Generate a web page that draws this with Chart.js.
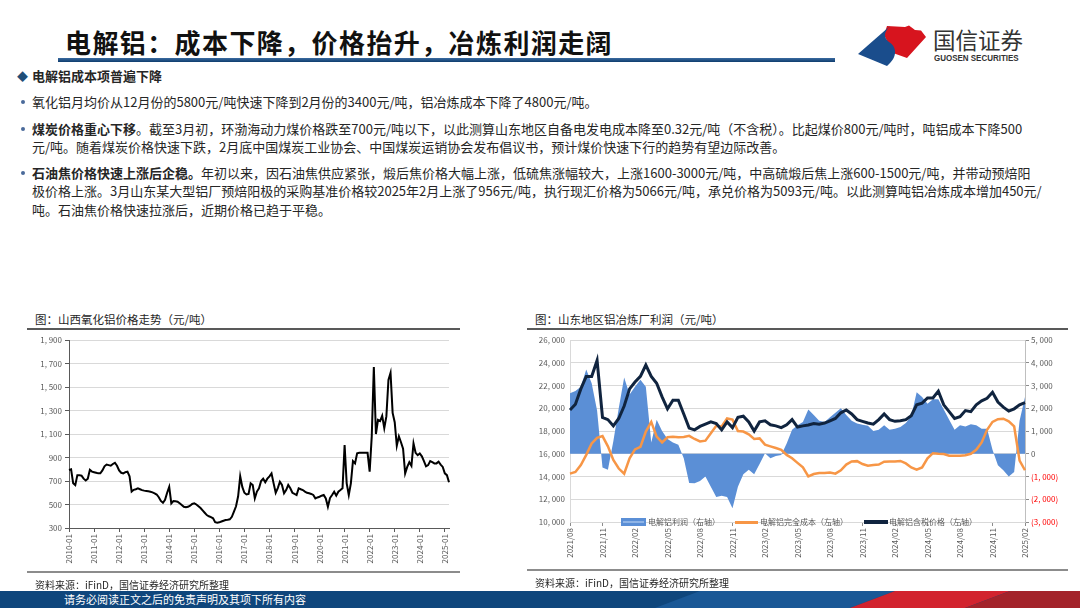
<!DOCTYPE html>
<html>
<head>
<meta charset="utf-8">
<script src="https://cdn.jsdelivr.net/npm/chart.js@4.4.0/dist/chart.umd.min.js"></script>
<style>
  body { margin: 0; background: #fff; }
  #page { position: relative; width: 1080px; height: 608px; overflow: hidden;
          font-family: 'Noto Sans CJK SC', sans-serif; color: #262626; }
  .abs { position: absolute; white-space: nowrap; }
  .txt { left: 32px; font-size: 13px; line-height: 18px; }
  .dot { left: 21px; width: 4px; height: 4px; border-radius: 2px; background: #4a6a9a; }
  .ctitle { font-size: 11.5px; color: #262626; }
  .src { font-size: 10px; color: #262626; }
  .lg { font-size: 8px; color: #595959; line-height: 10px; }
</style>
</head>
<body>
<div id="page">

  <!-- header -->
  <div class="abs" style="left:65px;top:24px;font-size:26px;letter-spacing:1.4px;font-weight:700;line-height:36px;color:#111;">电解铝：成本下降，价格抬升，冶炼利润走阔</div>
  <div class="abs" style="left:58px;top:58px;width:777px;height:4px;background:linear-gradient(#3a6aa0,#0e3c6e);"></div>
  <svg class="abs" style="left:0;top:0" width="1080" height="70">
    <path d="M887,26 L905,27 L909,25.5 L915,30 L921,30.5 L926,37 L907,58 L893,53 L884,35 Z" fill="#d7141e"/>
    <path d="M858,54 L890,26 C883,33 884,38 889,42 C897,47 898,57 887,66 Z" fill="#1a4d8c"/>
  </svg>
  <div class="abs" style="left:933px;top:25px;font-size:22.5px;line-height:28px;color:#333;">国信证券</div>
  <div class="abs" style="left:934px;top:53px;font-size:9.5px;line-height:10px;font-weight:700;color:#333;font-family:'Liberation Sans',sans-serif;transform:scaleX(0.84);transform-origin:left top;">GUOSEN SECURITIES</div>

  <!-- text block -->
  <div class="abs" style="left:17px;top:67px;font-size:11px;line-height:18px;color:#1f4e79;">◆</div>
  <div class="abs" style="left:32px;top:67px;font-size:13px;line-height:18px;font-weight:700;">电解铝成本项普遍下降</div>

  <div class="abs dot" style="top:100px"></div>
  <div class="abs txt" style="top:93px">氧化铝月均价从12月份的5800元/吨快速下降到2月份的3400元/吨，铝冶炼成本下降了4800元/吨。</div>

  <div class="abs dot" style="top:127px"></div>
  <div class="abs txt" style="top:120px"><b>煤炭价格重心下移</b>。截至3月初，环渤海动力煤价格跌至700元/吨以下，以此测算山东地区自备电发电成本降至0.32元/吨（不含税）。比起煤价800元/吨时，吨铝成本下降500</div>
  <div class="abs txt" style="top:138px">元/吨。随着煤炭价格快速下跌，2月底中国煤炭工业协会、中国煤炭运销协会发布倡议书，预计煤价快速下行的趋势有望边际改善。</div>

  <div class="abs dot" style="top:171px"></div>
  <div class="abs txt" style="top:164px"><b>石油焦价格快速上涨后企稳。</b>年初以来，因石油焦供应紧张，煅后焦价格大幅上涨，低硫焦涨幅较大，上涨1600-3000元/吨，中高硫煅后焦上涨600-1500元/吨，并带动预焙阳</div>
  <div class="abs txt" style="top:182px">极价格上涨。3月山东某大型铝厂预焙阳极的采购基准价格较2025年2月上涨了956元/吨，执行现汇价格为5066元/吨，承兑价格为5093元/吨。以此测算吨铝冶炼成本增加450元/</div>
  <div class="abs txt" style="top:201px">吨。石油焦价格快速拉涨后，近期价格已趋于平稳。</div>

  <!-- left chart frame -->
  <div class="abs ctitle" style="left:35px;top:311px;">图：山西氧化铝价格走势（元/吨）</div>
  <div class="abs" style="left:27px;top:328px;width:433px;height:1.5px;background:#595959;"></div>
  <canvas id="leftChart" class="abs" style="left:27px;top:330px;" width="433" height="242"></canvas>
  <div class="abs" style="left:27px;top:571px;width:433px;height:2px;background:#8c8c8c;"></div>
  <div class="abs src" style="left:35px;top:577px;">资料来源：iFinD，国信证券经济研究所整理</div>

  <!-- right chart frame -->
  <div class="abs ctitle" style="left:535px;top:311px;">图：山东地区铝冶炼厂利润（元/吨）</div>
  <div class="abs" style="left:527px;top:328px;width:541px;height:1.5px;background:#595959;"></div>
  <canvas id="rightChart" class="abs" style="left:527px;top:330px;" width="541" height="242"></canvas>
  <div class="abs" style="left:527px;top:569px;width:541px;height:2px;background:#8c8c8c;"></div>
  <div class="abs src" style="left:535px;top:575px;">资料来源：iFinD，国信证券经济研究所整理</div>

  <!-- right chart legend -->
  <div class="abs" style="left:621px;top:518px;width:25px;height:8px;background:#5b8fd6;"></div>
  <div class="abs" style="left:623px;top:521px;width:21px;height:2px;background:#8fb4e6;"></div>
  <div class="abs lg" style="left:648px;top:517px;">电解铝利润（右轴）</div>
  <div class="abs" style="left:735px;top:520.5px;width:23px;height:3px;background:#f79646;"></div>
  <div class="abs lg" style="left:760px;top:517px;">电解铝完全成本（左轴）</div>
  <div class="abs" style="left:864px;top:520px;width:24px;height:3.5px;background:#10243f;"></div>
  <div class="abs lg" style="left:889px;top:517px;">电解铝含税价格（左轴）</div>

  <!-- footer -->
  <svg class="abs" style="left:0;top:591px" width="1080" height="17">
    <rect x="0" y="0" width="1080" height="17" fill="#0f467c"/>
    <polygon points="655,17 700,0 895,0 850,17" fill="#1a5896"/>
    <polygon points="850,17 895,0 1010,0 965,17" fill="#d2232e"/>
    <polygon points="965,17 1010,0 1080,0 1080,17" fill="#a3232a"/>
  </svg>
  <div class="abs" style="left:64px;top:592px;font-size:11px;line-height:15px;color:#fff;">请务必阅读正文之后的免责声明及其项下所有内容</div>
</div>

<script>
// 山西氧化铝价格（元/吨），月度 2010-01 ~ 2025-03
const alumina2010 = [794, 800, 680, 665, 750, 750, 745, 720, 705, 720, 795, 780];
const alumina2011 = [775, 770, 765, 765, 790, 825, 840, 835, 830, 845, 855, 830];
const alumina2012 = [790, 770, 765, 775, 780, 740, 610, 625, 630, 638, 630, 622];
const alumina2013 = [618, 615, 612, 608, 603, 595, 585, 562, 530, 515, 540, 600];
const alumina2014 = [650, 510, 530, 528, 524, 510, 496, 480, 476, 480, 490, 505];
const alumina2015 = [510, 500, 485, 470, 450, 430, 410, 400, 392, 383, 350, 345];
const alumina2016 = [348, 355, 362, 368, 370, 374, 395, 440, 485, 570, 740, 650];
const alumina2017 = [600, 585, 590, 680, 666, 552, 610, 638, 700, 720, 690, 720];
const alumina2018 = [740, 765, 680, 600, 640, 694, 666, 595, 623, 666, 638, 600];
const alumina2019 = [590, 581, 638, 630, 623, 610, 600, 595, 590, 581, 552, 560];
const alumina2020 = [566, 575, 581, 552, 481, 555, 581, 609, 575, 609, 623, 638];
const alumina2021 = [1005, 680, 581, 680, 870, 850, 935, 940, 940, 940, 940, 940];
const alumina2022 = [780, 1080, 1670, 1100, 1220, 1210, 1255, 1150, 1250, 1560, 1620, 1280];
const alumina2023 = [1200, 1000, 1080, 1030, 975, 765, 820, 860, 830, 1020, 940, 920];
const alumina2024 = [935, 910, 870, 825, 835, 870, 860, 850, 850, 865, 840, 820];
const alumina2025 = [765, 750, 690];

// 山东铝冶炼利润，半月度 2021/08 ~ 2025/02
const priceA = [19850, 20350, 21700, 22800, 22800, 24200, 19200, 19000, 18450, 19100, 20200, 21700, 22300, 22800, 23800,
                22800, 22200, 21000, 19950, 20700, 20700, 19500, 18250, 18100, 18400, 18600, 18800, 18650, 18100];
const priceB = [18800, 18300, 19200, 19300, 18800, 18000, 18800, 18900, 18550, 18450, 18300, 18550, 19000, 18350,
                18450, 18530, 18650, 18600, 18700, 18900, 19100, 19600, 19850, 19500, 19000, 18850, 18700];
const priceC = [18600, 19000, 19500, 19000, 18850, 18900, 19000, 19350, 20300, 20450, 20900, 20900, 21500, 20300, 19700,
                19100, 19250, 19800, 19700, 20300, 20650, 20880, 21400, 20550, 20100, 19750, 19950, 20300, 20500];

const costA = [14250, 14400, 15000, 15900, 16900, 17400, 17550, 16650, 15450, 14700, 14250, 15600, 16380, 16600, 17950,
               18800, 17500, 17000, 17450, 17500, 17450, 17480, 17570, 17300, 17080, 17150, 17800, 18450, 18400];
const costB = [19100, 19000, 18000, 17950, 17700, 17300, 17350, 16800, 16650, 16500, 16350, 15900, 15600, 15200,
               14800, 14000, 14220, 14300, 14300, 14350, 14250, 14550, 15050, 15320, 15350, 15100, 14950];
const costC = [15020, 15050, 15300, 15320, 15320, 15370, 15150, 14800, 14600, 14800, 15600, 16050, 16000, 15980, 15830,
               15830, 15820, 15870, 16000, 16350, 17000, 18100, 18800, 19040, 19080, 18850, 18400, 15400, 14550];

const profitA = [2660, 2760, 2950, 3700, 3100, 1900, -600, -700, 550, 2000, 3350, 2600, 2950, 3250, 2950,
                 500, 1500, 1000, 650, 500, 400, -200, -1290, -1300, -1200, -1000, -1450, -1900, -1850];
const profitB = [-1900, -2400, -1450, -900, -700, -900, -450, 20, -200, -100, -50, 450, 1050, 1250,
                 1400, 1950, 1700, 1450, 1400, 1600, 1800, 2000, 1700, 1450, 1330, 1270, 1230];
const profitC = [1000, 1050, 1250, 1050, 1100, 1180, 1350, 1650, 2700, 2500, 2200, 2400, 2400, 1950, 1500,
                 1050, 1250, 1200, 1300, 1250, 1100, 1100, 175, -500, -720, -1000, -800, 1450, 2500];

const alumina = [].concat(alumina2010, alumina2011, alumina2012, alumina2013, alumina2014, alumina2015, alumina2016,
  alumina2017, alumina2018, alumina2019, alumina2020, alumina2021, alumina2022, alumina2023, alumina2024, alumina2025);
const price = priceA.concat(priceB, priceC);
const cost = costA.concat(costB, costC);
const profit = profitA.concat(profitB, profitC);

const aluminaLabels = [];
for (let y = 2010; y <= 2025; y++) {
  for (let m = 1; m <= 12; m++) {
    if (aluminaLabels.length < alumina.length) aluminaLabels.push(y + '-' + String(m).padStart(2, '0'));
  }
}
const profitLabels = [];
for (let i = 0; i < price.length; i++) {
  const mm = 7 + Math.floor(i / 2);
  profitLabels.push((2021 + Math.floor(mm / 12)) + '/' + String(mm % 12 + 1).padStart(2, '0'));
}

Chart.defaults.font.family = "'Noto Sans CJK SC', sans-serif";
Chart.defaults.font.size = 8;
Chart.defaults.color = '#595959';

const fmt = v => Math.abs(v).toLocaleString('en-US').replace(',', ', ');
const tickFont = { size: 8 };

new Chart(document.getElementById('leftChart'), {
  type: 'line',
  data: {
    labels: aluminaLabels,
    datasets: [{ data: alumina, borderColor: '#000', borderWidth: 2, pointRadius: 0, tension: 0 }]
  },
  options: {
    responsive: false, animation: false,
    layout: { padding: { top: 10, right: 11 } },
    plugins: { legend: { display: false }, tooltip: { enabled: false } },
    scales: {
      x: {
        afterFit: s => { s.height = 44; },
        grid: { display: true, drawOnChartArea: false, tickLength: 4, tickColor: '#595959' },
        border: { color: '#595959' },
        ticks: {
          autoSkip: false, maxRotation: 90, minRotation: 90, font: tickFont, padding: 2,
          callback: (v, i) => aluminaLabels[i].endsWith('-01') ? aluminaLabels[i] : null
        }
      },
      y: {
        min: 300, max: 1900,
        afterFit: s => { s.width = 42; },
        grid: { color: '#d9d9d9', tickLength: 4, tickColor: '#595959' },
        border: { color: '#595959' },
        ticks: { stepSize: 200, font: tickFont, padding: 3, callback: v => fmt(v) }
      }
    }
  }
});

new Chart(document.getElementById('rightChart'), {
  type: 'line',
  data: {
    labels: profitLabels,
    datasets: [
      { label: '电解铝含税价格（左轴）', data: price, yAxisID: 'y', borderColor: '#10243f', borderWidth: 3,
        pointRadius: 0, tension: 0, order: 1 },
      { label: '电解铝完全成本（左轴）', data: cost, yAxisID: 'y', borderColor: '#f79646', borderWidth: 2.5,
        pointRadius: 0, tension: 0, order: 2 },
      { label: '电解铝利润（右轴）', data: profit, yAxisID: 'y1', borderWidth: 0, borderColor: 'rgba(0,0,0,0)',
        backgroundColor: '#5b8fd6', fill: 'origin', pointRadius: 0, tension: 0, order: 3 }
    ]
  },
  options: {
    responsive: false, animation: false,
    layout: { padding: { top: 10 } },
    plugins: { legend: { display: false }, tooltip: { enabled: false } },
    scales: {
      x: {
        afterFit: s => { s.height = 50; },
        grid: { display: true, drawOnChartArea: false, tickLength: 4, tickColor: '#8c8c8c' },
        border: { color: '#d9d9d9' },
        ticks: {
          autoSkip: false, maxRotation: 90, minRotation: 90, font: tickFont, padding: 2,
          callback: (v, i) => i % 6 === 0 ? profitLabels[i] : null
        }
      },
      y: {
        position: 'left', min: 10000, max: 26000,
        afterFit: s => { s.width = 43; },
        grid: { color: '#d9d9d9', tickLength: 0 },
        border: { color: '#d9d9d9' },
        ticks: { stepSize: 2000, font: tickFont, padding: 5, callback: v => fmt(v) }
      },
      y1: {
        position: 'right', min: -3000, max: 5000,
        afterFit: s => { s.width = 43; },
        grid: { drawOnChartArea: false, tickLength: 4, tickColor: '#8c8c8c' },
        border: { color: '#bfbfbf' },
        ticks: {
          stepSize: 1000, font: tickFont, padding: 2,
          color: c => (c.tick && c.tick.value < 0) ? '#ff0000' : '#595959',
          callback: v => v < 0 ? '(' + fmt(v) + ')' : fmt(v)
        }
      }
    }
  }
});
</script>
</body>
</html>
